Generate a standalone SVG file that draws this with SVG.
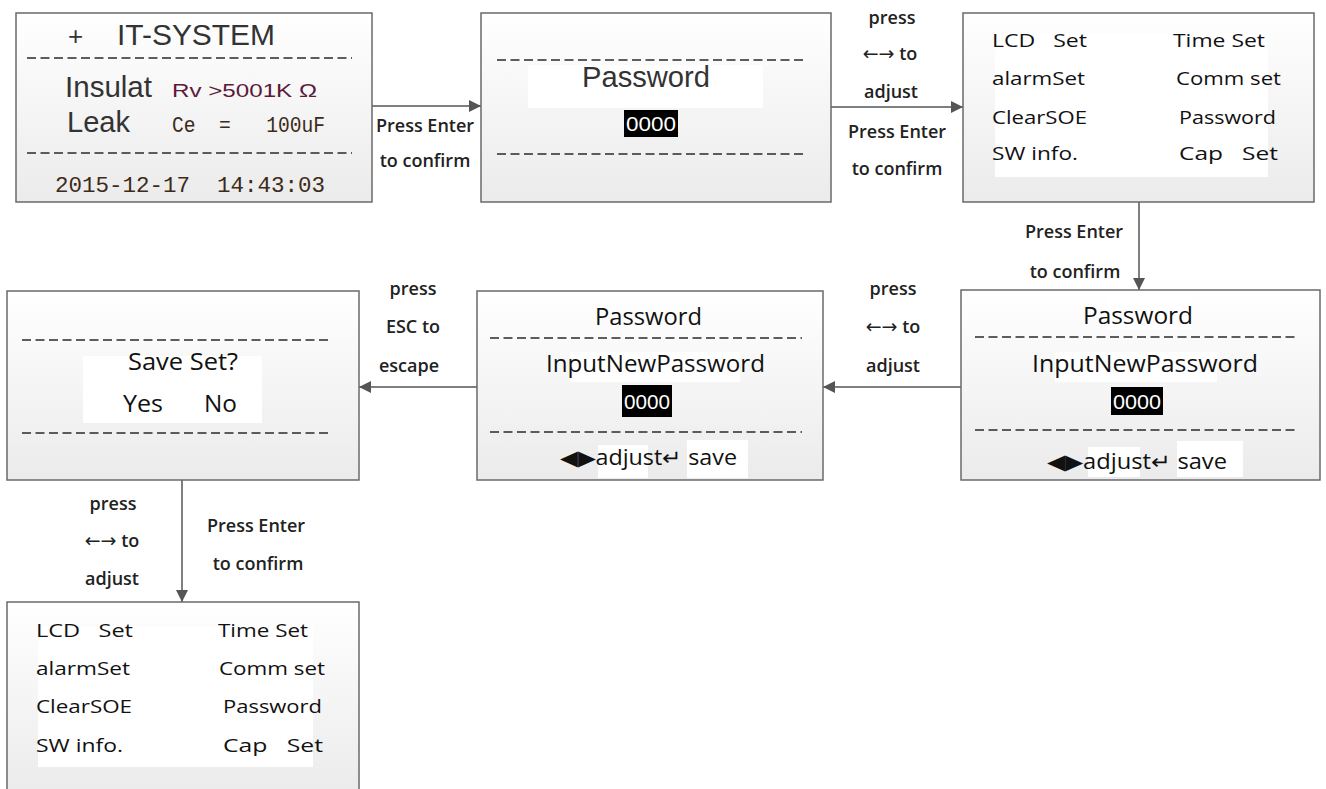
<svg xmlns="http://www.w3.org/2000/svg" width="1326" height="789" viewBox="0 0 1326 789">
<defs>
<linearGradient id="bg" x1="0" y1="0" x2="0" y2="1">
<stop offset="0" stop-color="#ffffff"/>
<stop offset="1" stop-color="#ebebeb"/>
</linearGradient>
<marker id="ah" viewBox="0 0 12 12" refX="12" refY="6" markerWidth="12" markerHeight="12" markerUnits="userSpaceOnUse" orient="auto">
<path d="M0,0 L12,6 L0,12 Z" fill="#555"/>
</marker>
</defs>
<style>
.box{fill:url(#bg);stroke:#6a6a6a;stroke-width:1.5}
.wh{fill:#fff}
.dash{stroke:#2a2a2a;stroke-width:1.6;stroke-dasharray:9 4.5}
.con{stroke:#555;stroke-width:1.5;fill:none}
.lbl{font-family:"Open Sans","Noto Sans",sans-serif;font-weight:600;font-size:18px;fill:#222;text-anchor:middle}
.arr{font-family:"DejaVu Sans",sans-serif;font-weight:400;font-size:19px}
.my{font-family:"Open Sans","Noto Sans",sans-serif;font-weight:400;fill:#111}
.menu{font-size:19px}
.ar{font-family:"Liberation Sans",Arial,sans-serif;fill:#333}
.hl{fill:#000}
.hlt{font-family:"Liberation Sans",Arial,sans-serif;font-size:20px;fill:#fff;text-anchor:middle}
.red{font-family:"Liberation Sans",Arial,sans-serif;font-size:19px;fill:#5c1a3a}
.brn{font-family:"Liberation Mono","DejaVu Sans Mono",monospace;fill:#3d2a18}
</style>

<g id="connectors">
<line class="con" x1="372" y1="106" x2="481" y2="106" marker-end="url(#ah)"/>
<line class="con" x1="831" y1="107" x2="963" y2="107" marker-end="url(#ah)"/>
<line class="con" x1="1139" y1="202" x2="1139" y2="290" marker-end="url(#ah)"/>
<line class="con" x1="961" y1="387" x2="823" y2="387" marker-end="url(#ah)"/>
<line class="con" x1="477" y1="387" x2="359" y2="387" marker-end="url(#ah)"/>
<line class="con" x1="182" y1="480" x2="182" y2="602" marker-end="url(#ah)"/>
<text class="lbl" x="425" y="132">Press Enter</text>
<text class="lbl" x="425" y="167">to confirm</text>
<text class="lbl" x="892" y="24">press</text>
<text class="lbl" x="890" y="60"><tspan class="arr">←→</tspan> to</text>
<text class="lbl" x="891" y="98">adjust</text>
<text class="lbl" x="897" y="138">Press Enter</text>
<text class="lbl" x="897" y="175">to confirm</text>
<text class="lbl" x="1074" y="238">Press Enter</text>
<text class="lbl" x="1075" y="278">to confirm</text>
<text class="lbl" x="893" y="295">press</text>
<text class="lbl" x="893" y="333"><tspan class="arr">←→</tspan> to</text>
<text class="lbl" x="893" y="372">adjust</text>
<text class="lbl" x="413" y="295">press</text>
<text class="lbl" x="413" y="333">ESC to</text>
<text class="lbl" x="409" y="372">escape</text>
<text class="lbl" x="113" y="510">press</text>
<text class="lbl" x="112" y="547"><tspan class="arr">←→</tspan> to</text>
<text class="lbl" x="112" y="585">adjust</text>
<text class="lbl" x="256" y="532">Press Enter</text>
<text class="lbl" x="258" y="570">to confirm</text>
</g>

<g id="node-main">
<rect class="box" x="16" y="13" width="356" height="189"/>
<text class="ar" x="68" y="45" font-size="26">+</text>
<text class="ar" x="117" y="45" font-size="30" textLength="158" lengthAdjust="spacingAndGlyphs">IT-SYSTEM</text>
<line class="dash" x1="27" y1="58" x2="352" y2="58"/>
<text class="ar" x="65" y="97" font-size="30" textLength="87" lengthAdjust="spacingAndGlyphs">Insulat</text>
<text class="red" x="172" y="97" textLength="145" lengthAdjust="spacingAndGlyphs">Rv &gt;5001K Ω</text>
<text class="ar" x="67" y="132" font-size="30" textLength="63" lengthAdjust="spacingAndGlyphs">Leak</text>
<text class="brn" x="172" y="132" font-size="22" textLength="153" lengthAdjust="spacingAndGlyphs" xml:space="preserve">Ce  =   100uF</text>
<line class="dash" x1="27" y1="153" x2="352" y2="153"/>
<text class="brn" x="55" y="192" font-size="22" textLength="270" lengthAdjust="spacingAndGlyphs" xml:space="preserve">2015-12-17  14:43:03</text>
</g>

<g id="node-password">
<rect class="box" x="481" y="13" width="350" height="189"/>
<line class="dash" x1="497" y1="60" x2="805" y2="60"/>
<rect class="wh" x="528" y="65" width="235" height="43"/>
<text class="ar" x="582" y="87" font-size="30" textLength="128" lengthAdjust="spacingAndGlyphs">Password</text>
<rect class="hl" x="624" y="110" width="54" height="27"/>
<text class="hlt" x="651" y="131" textLength="50" lengthAdjust="spacingAndGlyphs">0000</text>
<line class="dash" x1="497" y1="154" x2="805" y2="154"/>
</g>

<g id="node-menu1">
<rect class="box" x="963" y="13" width="351" height="189"/>
<rect class="wh" x="995" y="33" width="273" height="144"/>
<g class="my menu">
<text x="992" y="47" textLength="95" lengthAdjust="spacingAndGlyphs" xml:space="preserve">LCD   Set</text>
<text x="1173" y="47" textLength="92" lengthAdjust="spacingAndGlyphs">Time Set</text>
<text x="992" y="85" textLength="93" lengthAdjust="spacingAndGlyphs">alarmSet</text>
<text x="1176" y="85" textLength="105" lengthAdjust="spacingAndGlyphs">Comm set</text>
<text x="992" y="124" textLength="95" lengthAdjust="spacingAndGlyphs">ClearSOE</text>
<text x="1179" y="124" textLength="97" lengthAdjust="spacingAndGlyphs">Password</text>
<text x="992" y="160" textLength="86" lengthAdjust="spacingAndGlyphs">SW info.</text>
<text x="1179" y="160" textLength="99" lengthAdjust="spacingAndGlyphs" xml:space="preserve">Cap   Set</text>
</g>
</g>

<g id="node-newpass1">
<rect class="box" x="961" y="290" width="359" height="190"/>
<rect class="wh" x="1107" y="298" width="85" height="32"/>
<text class="my" x="1083" y="324" font-size="23" textLength="110" lengthAdjust="spacingAndGlyphs">Password</text>
<line class="dash" x1="975" y1="337" x2="1298" y2="337"/>
<rect class="wh" x="1055" y="352" width="162" height="30"/>
<text class="my" x="1032" y="372" font-size="23" textLength="226" lengthAdjust="spacingAndGlyphs">InputNewPassword</text>
<rect class="hl" x="1111" y="387" width="52" height="28"/>
<text class="hlt" x="1137" y="409" textLength="48" lengthAdjust="spacingAndGlyphs">0000</text>
<line class="dash" x1="975" y1="430" x2="1298" y2="430"/>
<rect class="wh" x="1088" y="447" width="52" height="30"/>
<rect class="wh" x="1177" y="441" width="66" height="36"/>
<text class="my" x="1047" y="469" font-size="21" textLength="180" lengthAdjust="spacingAndGlyphs">◀▶adjust↵ save</text>
</g>

<g id="node-newpass2">
<rect class="box" x="477" y="291" width="346" height="189"/>
<text class="my" x="595" y="325" font-size="23" textLength="107" lengthAdjust="spacingAndGlyphs">Password</text>
<line class="dash" x1="490" y1="338" x2="802" y2="338"/>
<rect class="wh" x="570" y="352" width="170" height="30"/>
<text class="my" x="546" y="372" font-size="23" textLength="219" lengthAdjust="spacingAndGlyphs">InputNewPassword</text>
<rect class="hl" x="622" y="385" width="50" height="32"/>
<text class="hlt" x="647" y="409" textLength="46" lengthAdjust="spacingAndGlyphs">0000</text>
<line class="dash" x1="490" y1="432" x2="802" y2="432"/>
<rect class="wh" x="598" y="445" width="50" height="33"/>
<rect class="wh" x="687" y="440" width="61" height="38"/>
<text class="my" x="560" y="465" font-size="21" textLength="177" lengthAdjust="spacingAndGlyphs">◀▶adjust↵ save</text>
</g>

<g id="node-saveset">
<rect class="box" x="7" y="291" width="352" height="189"/>
<line class="dash" x1="22" y1="340" x2="332" y2="340"/>
<rect class="wh" x="83" y="356" width="179" height="67"/>
<text class="my" x="128" y="370" font-size="23" textLength="110" lengthAdjust="spacingAndGlyphs">Save Set?</text>
<text class="my" x="123" y="412" font-size="23" textLength="40" lengthAdjust="spacingAndGlyphs">Yes</text>
<text class="my" x="204" y="412" font-size="23" textLength="33" lengthAdjust="spacingAndGlyphs">No</text>
<line class="dash" x1="22" y1="433" x2="332" y2="433"/>
</g>

<g id="node-menu2">
<rect class="box" x="7" y="602" width="352" height="192"/>
<rect class="wh" x="38" y="627" width="275" height="140"/>
<g class="my menu">
<text x="36" y="637" textLength="97" lengthAdjust="spacingAndGlyphs" xml:space="preserve">LCD   Set</text>
<text x="218" y="637" textLength="90" lengthAdjust="spacingAndGlyphs">Time Set</text>
<text x="36" y="675" textLength="94" lengthAdjust="spacingAndGlyphs">alarmSet</text>
<text x="219" y="675" textLength="106" lengthAdjust="spacingAndGlyphs">Comm set</text>
<text x="36" y="713" textLength="96" lengthAdjust="spacingAndGlyphs">ClearSOE</text>
<text x="223" y="713" textLength="99" lengthAdjust="spacingAndGlyphs">Password</text>
<text x="36" y="752" textLength="87" lengthAdjust="spacingAndGlyphs">SW info.</text>
<text x="223" y="752" textLength="100" lengthAdjust="spacingAndGlyphs" xml:space="preserve">Cap   Set</text>
</g>
</g>
</svg>
